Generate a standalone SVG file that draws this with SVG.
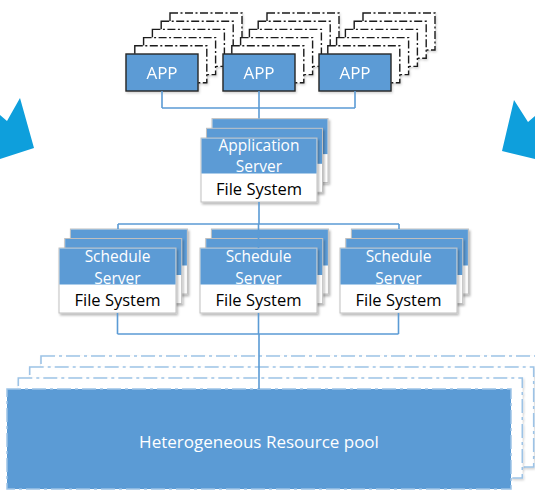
<svg xmlns="http://www.w3.org/2000/svg" width="535" height="491" viewBox="0 0 535 491">
<defs>
<filter id="sh" x="-10%" y="-10%" width="130%" height="140%">
<feDropShadow dx="1.5" dy="2" stdDeviation="1.3" flood-color="#000" flood-opacity="0.28"/>
</filter>
<filter id="shl" x="-10%" y="-10%" width="130%" height="140%">
<feDropShadow dx="1" dy="1.5" stdDeviation="1.2" flood-color="#000" flood-opacity="0.18"/>
</filter>
</defs>
<style>
.arrow{fill:#0E9FDC}
.appback{fill:#fff;stroke:#1a1a1a;stroke-width:1.4;stroke-dasharray:8 2.5 2 2.5}
.app{fill:#5B9BD5;stroke:#262626;stroke-width:1.4}
.sw{fill:#fff;stroke:#BFBFBF;stroke-width:1}
.sb{fill:#5B9BD5}
.wt{font-family:"Open Sans","Liberation Sans",sans-serif;fill:#fff;text-anchor:middle}
.bt{font-family:"Open Sans","Liberation Sans",sans-serif;fill:#000;text-anchor:middle;font-size:16.5px}
.poolback{fill:#fff;stroke:#9DC3E6;stroke-width:1.6;stroke-dasharray:14 4 3 4}
.pool{fill:#5B9BD5;stroke:#9DC3E6;stroke-width:1.5;stroke-dasharray:14 4 3 4}
.conn{fill:none;stroke:#5B9BD5;stroke-width:1.6}
</style>

<g id="arrow-left"><polygon class="arrow" points="0,115 7,121 20,98 34,148 0,159"/></g>
<g id="arrow-right"><polygon class="arrow" points="514,100 528,122 535,116 535,159 502,151"/></g>

<g id="app1" filter="url(#shl)">
<rect class="appback" x="170" y="13" width="72" height="37"/>
<rect class="appback" x="161.2" y="21.2" width="72" height="37"/>
<rect class="appback" x="152.4" y="29.4" width="72" height="37"/>
<rect class="appback" x="143.6" y="37.6" width="72" height="37"/>
<rect class="appback" x="134.8" y="45.8" width="72" height="37"/>
<rect class="app" x="126" y="54" width="72" height="37"/>
<text class="wt" x="162" y="79" font-size="17">APP</text>
</g>
<g id="app2" filter="url(#shl)">
<rect class="appback" x="267" y="13" width="72" height="37"/>
<rect class="appback" x="258.2" y="21.2" width="72" height="37"/>
<rect class="appback" x="249.4" y="29.4" width="72" height="37"/>
<rect class="appback" x="240.6" y="37.6" width="72" height="37"/>
<rect class="appback" x="231.8" y="45.8" width="72" height="37"/>
<rect class="app" x="223" y="54" width="72" height="37"/>
<text class="wt" x="259" y="79" font-size="17">APP</text>
</g>
<g id="app3" filter="url(#shl)">
<rect class="appback" x="363" y="13" width="72" height="37"/>
<rect class="appback" x="354.2" y="21.2" width="72" height="37"/>
<rect class="appback" x="345.4" y="29.4" width="72" height="37"/>
<rect class="appback" x="336.6" y="37.6" width="72" height="37"/>
<rect class="appback" x="327.8" y="45.8" width="72" height="37"/>
<rect class="app" x="319" y="54" width="72" height="37"/>
<text class="wt" x="355" y="79" font-size="17">APP</text>
</g>

<g id="app-server">
<g filter="url(#sh)"><rect class="sw" x="212" y="118.6" width="116" height="64"/><rect class="sb" x="212.5" y="119.1" width="115" height="35"/></g>
<g filter="url(#sh)"><rect class="sw" x="206.5" y="128.3" width="116" height="64"/><rect class="sb" x="207" y="128.8" width="115" height="35"/></g>
<g filter="url(#sh)"><rect class="sw" x="201" y="138" width="116" height="64"/><rect class="sb" x="201.5" y="138.5" width="115" height="35"/></g>
<text class="wt" x="259" y="151" font-size="15.5">Application</text>
<text class="wt" x="259" y="172" font-size="15.5">Server</text>
<text class="bt" x="259" y="195">File System</text>
</g>

<g id="schedule1">
<g filter="url(#sh)"><rect class="sw" x="70.4" y="229" width="117" height="65"/><rect class="sb" x="70.9" y="229.5" width="116" height="36"/></g>
<g filter="url(#sh)"><rect class="sw" x="64.7" y="238.5" width="117" height="65"/><rect class="sb" x="65.2" y="239" width="116" height="36"/></g>
<g filter="url(#sh)"><rect class="sw" x="59" y="248" width="117" height="65"/><rect class="sb" x="59.5" y="248.5" width="116" height="36"/></g>
<text class="wt" x="117.5" y="262" font-size="15.5">Schedule</text>
<text class="wt" x="117.5" y="284" font-size="15.5">Server</text>
<text class="bt" x="117.5" y="306">File System</text>
</g>

<g id="schedule2">
<g filter="url(#sh)"><rect class="sw" x="211.4" y="229" width="117" height="65"/><rect class="sb" x="211.9" y="229.5" width="116" height="36"/></g>
<g filter="url(#sh)"><rect class="sw" x="205.7" y="238.5" width="117" height="65"/><rect class="sb" x="206.2" y="239" width="116" height="36"/></g>
<g filter="url(#sh)"><rect class="sw" x="200" y="248" width="117" height="65"/><rect class="sb" x="200.5" y="248.5" width="116" height="36"/></g>
<text class="wt" x="258.5" y="262" font-size="15.5">Schedule</text>
<text class="wt" x="258.5" y="284" font-size="15.5">Server</text>
<text class="bt" x="258.5" y="306">File System</text>
</g>

<g id="schedule3">
<g filter="url(#sh)"><rect class="sw" x="351.4" y="229" width="117" height="65"/><rect class="sb" x="351.9" y="229.5" width="116" height="36"/></g>
<g filter="url(#sh)"><rect class="sw" x="345.7" y="238.5" width="117" height="65"/><rect class="sb" x="346.2" y="239" width="116" height="36"/></g>
<g filter="url(#sh)"><rect class="sw" x="340" y="248" width="117" height="65"/><rect class="sb" x="340.5" y="248.5" width="116" height="36"/></g>
<text class="wt" x="398.5" y="262" font-size="15.5">Schedule</text>
<text class="wt" x="398.5" y="284" font-size="15.5">Server</text>
<text class="bt" x="398.5" y="306">File System</text>
</g>

<g id="resource-pool">
<rect class="poolback" x="41" y="356" width="504" height="100" filter="url(#shl)"/>
<rect class="poolback" x="29.7" y="367" width="504" height="100" filter="url(#shl)"/>
<rect class="poolback" x="18.3" y="378" width="504" height="100" filter="url(#shl)"/>
<rect class="pool" x="7" y="389" width="504" height="100"/>
<text class="wt" x="259" y="448" font-size="17">Heterogeneous Resource pool</text>
</g>

<g id="connectors">
<path class="conn" d="M162,91 V108 M259,91 V108 M355,91 V108 M162,108 H355 M259,108 V118.6"/>
<path class="conn" d="M259,202 V224 M118,224 H399 M118,224 V229 M258.5,224 V248 M399,224 V229"/>
<path class="conn" d="M117.5,313 V334 M258.5,313 V334 M398.5,313 V334 M117.5,334 H398.5 M259,334 V389"/>
</g>
</svg>
